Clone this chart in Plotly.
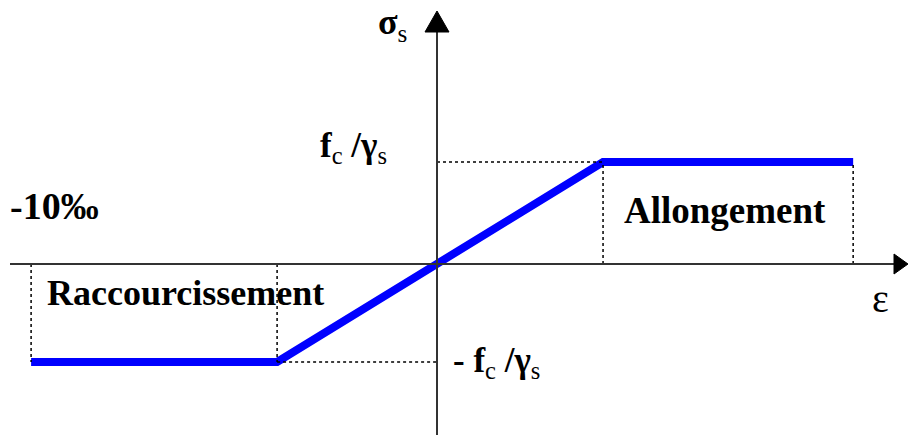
import plotly.graph_objects as go

# strain (in per-mille-ish units) and stress (normalised to fc/gamma_s)
eps = [-9.9, -3.9, 4.05, 10.15]
sig = [-0.98, -0.98, 1.02, 1.02]

W, H = 909, 435
x_range = [-437 / 41, (W - 437) / 41]
y_range = [-(H - 264) / 100, 264 / 100]

fig = go.Figure()

# blue stress-strain law
fig.add_trace(go.Scatter(x=eps, y=sig, mode='lines',
                         line=dict(color='#0000ff', width=8), hoverinfo='skip'))

dot = dict(color='black', width=1.5, dash='dot')
# dotted guides
fig.add_shape(type='line', x0=eps[0], y0=0, x1=eps[0], y1=sig[0], line=dot)
fig.add_shape(type='line', x0=eps[1], y0=0, x1=eps[1], y1=sig[1], line=dot)
fig.add_shape(type='line', x0=eps[1], y0=sig[1], x1=0, y1=sig[1], line=dot)
fig.add_shape(type='line', x0=0, y0=sig[2], x1=eps[2], y1=sig[2], line=dot)
fig.add_shape(type='line', x0=eps[2], y0=0, x1=eps[2], y1=sig[2], line=dot)
fig.add_shape(type='line', x0=eps[3], y0=0, x1=eps[3], y1=sig[3], line=dot)

# axes
ax = dict(color='#333333', width=2)
fig.add_shape(type='line', x0=x_range[0] + 10 / 41, y0=0, x1=x_range[1] - 10 / 41, y1=0, line=ax)
fig.add_shape(type='line', x0=0, y0=y_range[0], x1=0, y1=y_range[1] - 20 / 100, line=ax)
# arrow heads
tipx = x_range[1] - 1 / 41
fig.add_shape(type='path',
              path=f'M {tipx - 14 / 41},{-10 / 100} L {tipx},0 L {tipx - 14 / 41},{10 / 100} Z',
              fillcolor='black', line=dict(color='black', width=1))
tipy = y_range[1] - 11 / 100
fig.add_shape(type='path',
              path=f'M {-12 / 41},{tipy - 21 / 100} L 0,{tipy} L {12 / 41},{tipy - 21 / 100} Z',
              fillcolor='black', line=dict(color='black', width=1))

font = dict(family='Liberation Serif', color='black')


def label(txt, px, py, size, xanchor='left'):
    fig.add_annotation(text=txt, x=px / W, y=1 - py / H, xref='paper', yref='paper',
                       xanchor=xanchor, yanchor='middle', showarrow=False,
                       font=dict(size=size, **font))


label('<b>σ</b><sub>s</sub>', 376, 24, 36)
label('<b>f</b><sub>c</sub><b> /γ</b><sub>s</sub>', 318, 147, 35)
label('<b>- f</b><sub>c</sub><b> /γ</b><sub>s</sub>', 451, 362, 35)
label('<b>-10‰</b>', 8, 206, 38)
label('<b>Allongement</b>', 622, 210, 37)
label('<b>Raccourcissement</b>', 45, 293, 36)
label('ε', 870, 298, 40)

fig.update_layout(width=W, height=H, margin=dict(l=0, r=0, t=0, b=0),
                  paper_bgcolor='white', plot_bgcolor='white', showlegend=False,
                  xaxis=dict(range=x_range, visible=False, fixedrange=True),
                  yaxis=dict(range=y_range, visible=False, fixedrange=True))

fig.write_html('out.html', config=dict(displayModeBar=False),
               post_script="document.body.style.margin='0';document.body.style.overflow='hidden';")
